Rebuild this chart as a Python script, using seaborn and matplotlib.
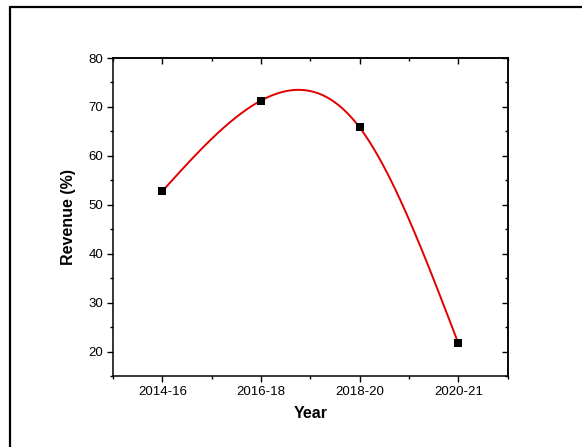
import matplotlib
matplotlib.use("Agg")
import matplotlib.pyplot as plt
from matplotlib.lines import Line2D
from matplotlib.ticker import MultipleLocator
import numpy as np
import seaborn as sns

years = ["2014-16", "2016-18", "2018-20", "2020-21"]
revenue = [52.8, 71.3, 65.8, 21.7]

sns.set_style("ticks", {"text.color": "black", "axes.labelcolor": "black",
                        "xtick.color": "black", "ytick.color": "black",
                        "axes.edgecolor": "black"})
plt.rcParams["font.family"] = ["Liberation Sans", "DejaVu Sans"]


def natural_spline(xs, ys, n=300):
    # natural cubic spline, like Origin's "Spline" line connection
    xs = np.asarray(xs, float)
    ys = np.asarray(ys, float)
    k = len(xs)
    h = np.diff(xs)
    A = np.zeros((k, k))
    b = np.zeros(k)
    A[0, 0] = A[-1, -1] = 1
    for i in range(1, k - 1):
        A[i, i - 1] = h[i - 1]
        A[i, i] = 2 * (h[i - 1] + h[i])
        A[i, i + 1] = h[i]
        b[i] = 6 * ((ys[i + 1] - ys[i]) / h[i] - (ys[i] - ys[i - 1]) / h[i - 1])
    M = np.linalg.solve(A, b)
    xx = np.linspace(xs[0], xs[-1], n)
    idx = np.clip(np.searchsorted(xs, xx) - 1, 0, k - 2)
    x0, x1 = xs[idx], xs[idx + 1]
    hh = x1 - x0
    t1, t0 = x1 - xx, xx - x0
    yy = (M[idx] * t1**3 + M[idx + 1] * t0**3) / (6 * hh) \
        + (ys[idx] / hh - M[idx] * hh / 6) * t1 \
        + (ys[idx + 1] / hh - M[idx + 1] * hh / 6) * t0
    return xx, yy


pos = np.arange(len(years))
sx, sy = natural_spline(pos, revenue)

fig = plt.figure(figsize=(5.82, 4.47), dpi=100)
ax = fig.add_axes([0.1942, 0.1588, 0.678, 0.7114])

sns.lineplot(x=sx, y=sy, ax=ax, color="#e00000", linewidth=1.4, sort=False)
sns.scatterplot(x=pos, y=revenue, ax=ax, marker="s", s=34, color="black",
                edgecolor="black", linewidth=0, zorder=3)

ax.set_xlim(-0.5, 3.5)
ax.set_ylim(15, 80)
ax.set_xticks(pos)
ax.set_xticklabels(years)
ax.xaxis.set_minor_locator(MultipleLocator(0.5))
ax.yaxis.set_major_locator(MultipleLocator(10))
ax.yaxis.set_minor_locator(MultipleLocator(5))
ax.tick_params(which="major", direction="out", length=4.5, width=1, labelsize=9.5, pad=2.5,
               colors="black")
ax.tick_params(which="minor", direction="out", length=2.5, width=1, colors="black")

for sp in ax.spines.values():
    sp.set_visible(True)
    sp.set_linewidth(1.1)
    sp.set_color("black")

top = ax.secondary_xaxis("top")
top.set_xticks(pos)
top.set_xticklabels([])
top.xaxis.set_minor_locator(MultipleLocator(0.5))
top.tick_params(which="major", direction="in", length=4.5, width=1, colors="black")
top.tick_params(which="minor", direction="in", length=2.5, width=1, colors="black")
top.spines["top"].set_linewidth(1.1)
top.spines["top"].set_color("black")

right = ax.secondary_yaxis("right")
right.yaxis.set_major_locator(MultipleLocator(10))
right.yaxis.set_minor_locator(MultipleLocator(5))
right.set_yticklabels([])
right.tick_params(which="major", direction="in", length=4.5, width=1, colors="black")
right.tick_params(which="minor", direction="in", length=2.5, width=1, colors="black")
right.spines["right"].set_linewidth(1.1)
right.spines["right"].set_color("black")

ax.set_xlabel("Year", fontsize=11.5, fontweight="bold", labelpad=6, color="black")
ax.set_ylabel("Revenue (%)", fontsize=11.5, fontweight="bold", labelpad=9, color="black")

# outer frame (left and top edges)
fig.add_artist(Line2D([10 / 582, 10 / 582], [0, 1 - 7 / 447], transform=fig.transFigure,
                      color="black", linewidth=1.6))
fig.add_artist(Line2D([10 / 582, 1], [1 - 7 / 447, 1 - 7 / 447], transform=fig.transFigure,
                      color="black", linewidth=1.6))

fig.savefig("out.png", dpi=100)
